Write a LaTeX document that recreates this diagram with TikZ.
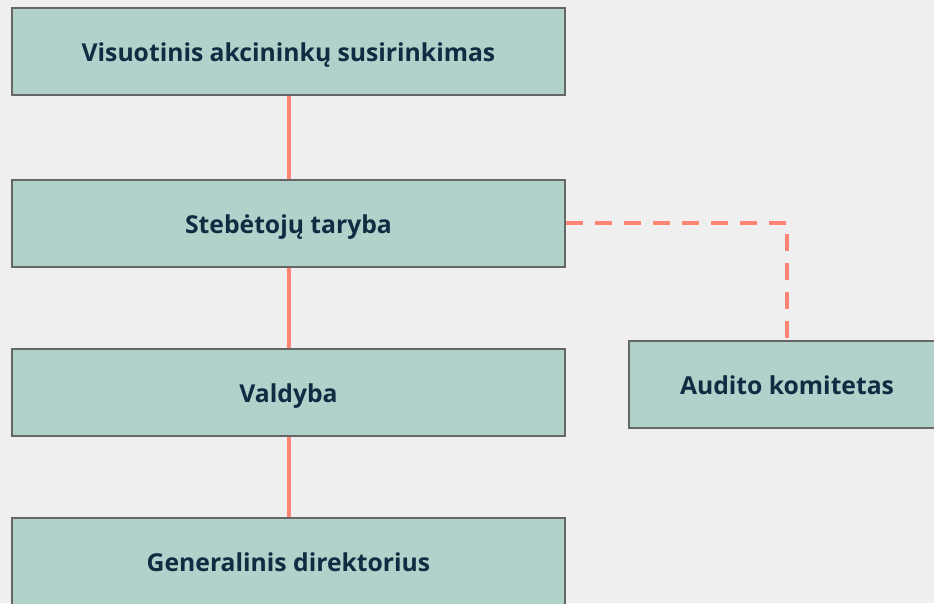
\documentclass[tikz,border=0pt]{standalone}
\usepackage{fontspec}
\setmainfont{Open Sans}
\definecolor{bggray}{HTML}{EFEFEF}
\definecolor{boxfill}{HTML}{B0D2CA}
\definecolor{boxline}{HTML}{666666}
\definecolor{linkred}{HTML}{FF8474}
\definecolor{boxtext}{HTML}{112B42}
\begin{document}
\begin{tikzpicture}[x=1pt,y=1pt,
	orgbox/.style={draw=boxline, line width=2pt, fill=boxfill, minimum height=87pt, inner sep=0pt,
		text=boxtext, text height=20pt, text depth=0pt, font=\bfseries\fontsize{24.7}{29}\selectfont},
	mainbox/.style={orgbox, minimum width=553pt},
	solidlink/.style={draw=linkred, line width=4pt},
	dashlink/.style={draw=linkred, line width=4pt, dash pattern=on 17pt off 12pt}]
	\fill[bggray] (0,0) rectangle (934,-603);
	\useasboundingbox (0,0) rectangle (934,-603);
	\clip (0,0) rectangle (934,-603);

	\node[mainbox] (vas) at (288.5,-51.5) {Visuotinis akcininkų susirinkimas};
	\node[mainbox] (st) at (288.5,-223) {Stebėtojų taryba};
	\node[mainbox] (val) at (288.5,-392.5) {Valdyba};
	\node[mainbox] (gd) at (288.5,-561.5) {Generalinis direktorius};
	\node[orgbox, minimum width=316pt] (ak) at (787,-384.5) {Audito komitetas};

	\draw[solidlink] (vas) -- (st);
	\draw[solidlink] (st) -- (val);
	\draw[solidlink] (val) -- (gd);
	\draw[dashlink] (st.east) -| (ak.north);
\end{tikzpicture}
\end{document}
